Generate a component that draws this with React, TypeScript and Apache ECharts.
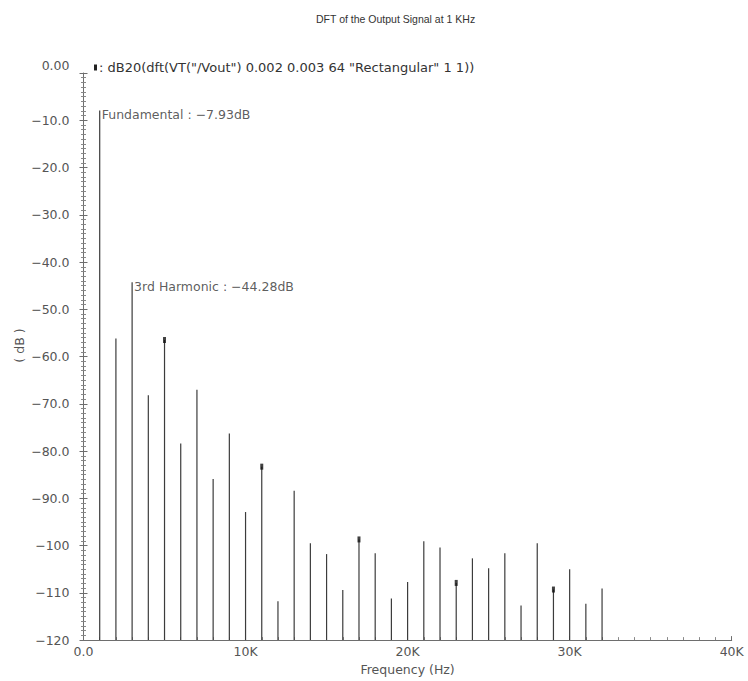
import React, { useEffect, useRef } from "react";
import * as echarts from "echarts";

// ---- data ----
const TITLE = "DFT of the Output Signal at 1 KHz";
const SERIES_NAME = 'dB20(dft(VT("/Vout") 0.002 0.003 64 "Rectangular" 1 1))';

const freqsHz = [
  1000, 2000, 3000, 4000, 5000, 6000, 7000, 8000, 9000, 10000,
  11000, 12000, 13000, 14000, 15000, 16000, 17000, 18000, 19000, 20000,
  21000, 22000, 23000, 24000, 25000, 26000, 27000, 28000, 29000, 30000,
  31000, 32000,
];
const magnitudesDb = [
  -7.93, -56.2, -44.28, -68.2, -56.5, -78.4, -67.0, -85.9, -76.3, -92.9,
  -83.3, -111.8, -88.4, -99.5, -101.8, -109.4, -98.7, -101.6, -111.2, -107.7,
  -99.1, -100.4, -107.9, -102.7, -104.8, -101.6, -112.7, -99.5, -109.3, -105.0,
  -112.3, -109.1,
];
const markerFreqsHz = [5000, 11000, 17000, 23000, 29000];

const annotationFreqsHz = [1000, 3000];
const annotationValuesDb = [-7.93, -44.28];
const annotationTexts = ["Fundamental : \u22127.93dB", "3rd Harmonic : \u221244.28dB"];

const yTickLabels = [
  "0.00", "\u221210.0", "\u221220.0", "\u221230.0", "\u221240.0", "\u221250.0",
  "\u221260.0", "\u221270.0", "\u221280.0", "\u221290.0", "\u2212100", "\u2212110", "\u2212120",
];
const xTickLabels = ["0.0", "10K", "20K", "30K", "40K"];

const X_MIN = 0;
const X_MAX = 40000;
const X_STEP = 10000;
const Y_MIN = -120;
const Y_MAX = 0;
const Y_STEP = 10;

const FONT = "DejaVu Sans";
const AXIS_COLOR = "#6e6e6e";
const MINOR_COLOR = "#8a8a8a";
const TEXT_COLOR = "#555555";

const CHART_W = 748;
const CHART_H = 681;
const GRID = { left: 83.5, right: 16.3, top: 73, bottom: 34 };

export default function App() {
  const ref = useRef<HTMLDivElement>(null);

  useEffect(() => {
    if (!ref.current) return;
    const chart = echarts.init(ref.current, undefined, { renderer: "svg" });

    const stemData = freqsHz.map((f, i) => [f, magnitudesDb[i]]);
    const markerData = markerFreqsHz.map((f) => [f, magnitudesDb[freqsHz.indexOf(f)]]);
    const annotData = annotationFreqsHz.map((f, i) => ({
      value: [f, annotationValuesDb[i]],
      label: { formatter: annotationTexts[i] },
    }));

    const yLabel = (v: number) => {
      const idx = Math.round((Y_MAX - v) / Y_STEP);
      const s = yTickLabels[idx] ?? "";
      return idx === 0 ? "{top|" + s + "}" : s;
    };
    const xLabel = (v: number) => xTickLabels[Math.round((v - X_MIN) / X_STEP)] ?? "";

    const gridWidth = CHART_W - GRID.left - GRID.right;

    const option: any = {
      animation: false,
      backgroundColor: "#ffffff",
      title: {
        text: TITLE,
        left: 311,
        top: 8,
        textStyle: { fontFamily: "Liberation Sans", fontSize: 10.5, fontWeight: "normal", color: "#333" },
      },
      legend: {
        data: [{ name: SERIES_NAME, icon: "rect" }],
        left: 89,
        top: 56,
        itemWidth: 3,
        itemHeight: 6,
        formatter: (n: string) => ": " + n,
        textStyle: { fontFamily: FONT, fontSize: 13, color: "#333", padding: [0, 0, 0, -3] },
      },
      grid: { ...GRID },
      xAxis: {
        type: "value",
        min: X_MIN,
        max: X_MAX,
        interval: X_STEP,
        name: "Frequency (Hz)",
        nameLocation: "middle",
        nameGap: 16,
        nameTextStyle: { fontFamily: FONT, fontSize: 12.5, color: TEXT_COLOR },
        axisLine: { show: true, onZero: false, lineStyle: { color: AXIS_COLOR, width: 1 } },
        axisTick: { show: true, inside: true, length: 4, lineStyle: { color: AXIS_COLOR } },
        minorTick: { show: true, splitNumber: 10, length: 3, lineStyle: { color: MINOR_COLOR } },
        splitLine: { show: false },
        axisLabel: { formatter: xLabel, fontFamily: FONT, fontSize: 12.5, color: TEXT_COLOR, margin: 5 },
      },
      yAxis: [
        {
          type: "value",
          min: Y_MIN,
          max: Y_MAX,
          interval: Y_STEP,
          position: "left",
          name: "( dB )",
          nameLocation: "middle",
          nameGap: 58,
          nameMoveOverlap: false,
          nameRotate: 90,
          nameTextStyle: { fontFamily: FONT, fontSize: 12.5, color: TEXT_COLOR, padding: [0, 0, 0, 22] },
          axisLine: { show: true, onZero: false, lineStyle: { color: AXIS_COLOR, width: 1 } },
          axisTick: { show: true, inside: false, length: 4, lineStyle: { color: AXIS_COLOR } },
          minorTick: { show: true, splitNumber: 10, length: 2.5, lineStyle: { color: MINOR_COLOR } },
          splitLine: { show: false },
          axisLabel: {
            formatter: yLabel,
            fontFamily: FONT,
            fontSize: 12.5,
            color: TEXT_COLOR,
            margin: 14,
            rich: { top: { fontFamily: FONT, fontSize: 12.5, color: TEXT_COLOR, padding: [0, 0, 16, 0] } },
          },
        },
        {
          // duplicate scale moved onto the left edge: draws the inner half of the crossing ticks
          type: "value",
          min: Y_MIN,
          max: Y_MAX,
          interval: Y_STEP,
          position: "right",
          offset: -gridWidth,
          axisLine: { show: false, onZero: false },
          axisTick: { show: true, inside: false, length: 4, lineStyle: { color: AXIS_COLOR } },
          minorTick: { show: true, splitNumber: 10, length: 2.5, lineStyle: { color: MINOR_COLOR } },
          splitLine: { show: false },
          axisLabel: { show: false },
        },
      ],
      series: [
        {
          name: SERIES_NAME,
          type: "custom",
          yAxisIndex: 0,
          itemStyle: { color: "#222" },
          data: stemData,
          renderItem: (params: any, api: any) => {
            const top = api.coord([api.value(0), api.value(1)]);
            const base = api.coord([api.value(0), Y_MIN]);
            return {
              type: "line",
              shape: { x1: top[0], y1: top[1], x2: base[0], y2: base[1] },
              style: { stroke: "#3c3c3c", lineWidth: 1.2 },
            };
          },
          z: 3,
        },
        {
          name: "markers",
          type: "scatter",
          yAxisIndex: 0,
          symbol: "rect",
          symbolSize: [3, 6],
          itemStyle: { color: "#111" },
          data: markerData,
          z: 4,
        },
        {
          name: "annotations",
          type: "scatter",
          yAxisIndex: 0,
          symbolSize: 0,
          data: annotData,
          label: {
            show: true,
            position: "right",
            distance: 2,
            offset: [0, 4],
            fontFamily: FONT,
            fontSize: 12.5,
            color: "#333",
          },
          z: 5,
        },
      ],
    };

    chart.setOption(option);
    return () => chart.dispose();
  }, []);

  return <div ref={ref} style={{ width: CHART_W, height: CHART_H, position: "absolute", left: 0, top: 0 }} />;
}
